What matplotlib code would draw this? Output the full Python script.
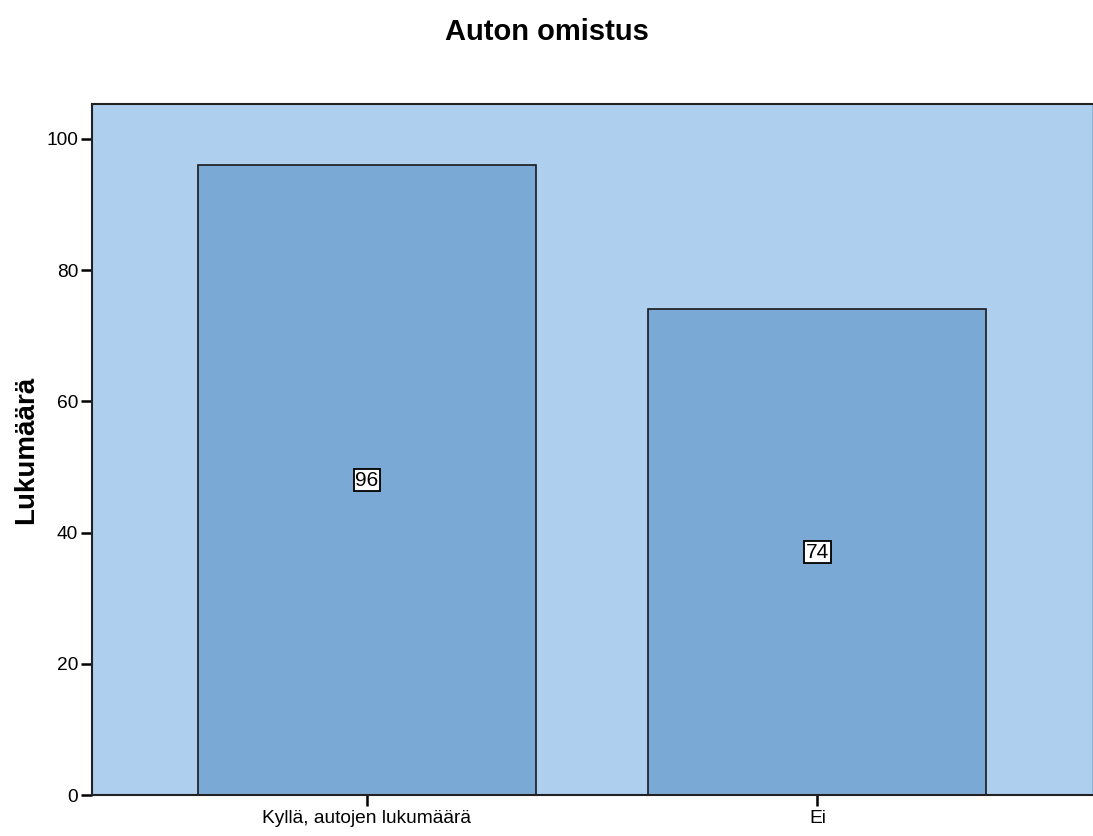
import numpy as np
import matplotlib.pyplot as plt

plt.rcParams['font.family'] = ['Liberation Sans', 'DejaVu Sans']

# data
categories = ['Kyllä, autojen lukumäärä', 'Ei']
counts = [96, 74]
yticks = [0, 20, 40, 60, 80, 100]

fig = plt.figure(figsize=(10.93, 8.36), dpi=100)
ax = fig.add_axes([0.0842, 0.049, 0.915, 0.8266])
ax.set_facecolor('#AECFEE')

x = np.arange(len(categories))
bars = ax.bar(x, counts, width=0.75, color='#7BA9D5', edgecolor='#1a1a1a', linewidth=1.2)

# value labels in the middle of each bar
for xi, v in zip(x, counts):
    ax.text(xi, v / 2, str(v), ha='center', va='center', fontsize=15,
            bbox=dict(boxstyle='square,pad=0.08', facecolor='white', edgecolor='black', linewidth=1.3))

ax.set_xlim(-0.61, 1.61)
ax.set_ylim(0, 105.3)
ax.set_xticks(x)
ax.set_xticklabels(categories, fontsize=13.8)
ax.set_yticks(yticks)
ax.tick_params(axis='y', labelsize=13.8, length=8, width=1.8, pad=2)
ax.tick_params(axis='x', length=8, width=1.8, pad=3)

for side in ['left', 'bottom', 'top']:
    ax.spines[side].set_linewidth(1.5)
    ax.spines[side].set_color('#222222')
ax.spines['right'].set_color('#8fb3d6')

ax.set_ylabel('Lukumäärä', fontsize=20, fontweight='bold', labelpad=5)
fig.suptitle('Auton omistus', fontsize=21, fontweight='bold', y=0.978)

fig.savefig('out.png', dpi=100)
